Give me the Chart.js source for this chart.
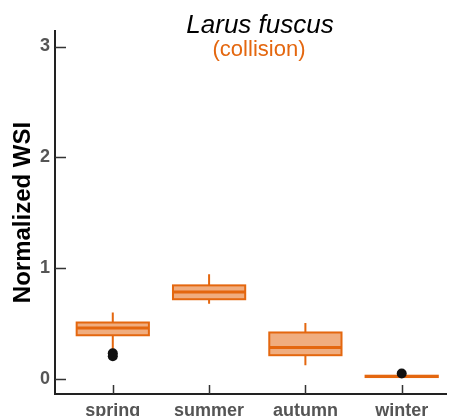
<!DOCTYPE html>
<html>
<head>
<meta charset="utf-8">
<script src="https://cdn.jsdelivr.net/npm/chart.js@4/dist/chart.umd.min.js"></script>
<style>
  html, body { margin: 0; padding: 0; background: #fff; }
  #wrap { width: 451px; height: 416px; }
</style>
</head>
<body>
<div id="wrap"><canvas id="chart" width="451" height="416"></canvas></div>
<script>
// Seasonal distribution of normalized WSI (collision) for Larus fuscus
const seasons = ['spring', 'summer', 'autumn', 'winter'];
const whiskerLow  = [0.26, 0.68, 0.125, 0.015];
const q1          = [0.395, 0.72, 0.215, 0.018];
const median      = [0.46, 0.785, 0.285, 0.024];
const q3          = [0.51, 0.845, 0.42, 0.030];
const whiskerHigh = [0.60, 0.945, 0.505, 0.033];
const outlierSeason = ['spring', 'spring', 'winter'];
const outlierValue  = [0.232, 0.205, 0.05];
const yTicks = [0, 1, 2, 3];

const FONT = "'Liberation Sans', Arial, Helvetica, sans-serif";
const ORANGE = '#e4670f';
const ORANGE_FILL = '#f0ad7f';
const BOX_WIDTH = 0.75;

const outlierPoints = outlierValue.map((v, i) => ({ x: seasons.indexOf(outlierSeason[i]) + 1, y: v }));

// Boxes, whiskers and medians drawn from the summary arrays via the chart scales
const boxPlotPlugin = {
  id: 'boxPlot',
  beforeDatasetsDraw(chart) {
    const { ctx, scales: { x, y } } = chart;
    ctx.save();
    seasons.forEach((s, i) => {
      const cx = x.getPixelForValue(i + 1);
      const half = x.getPixelForValue(i + 1 + BOX_WIDTH / 2) - cx;
      const yLo = y.getPixelForValue(whiskerLow[i]);
      const yHi = y.getPixelForValue(whiskerHigh[i]);
      const y1 = y.getPixelForValue(q1[i]);
      const y3 = y.getPixelForValue(q3[i]);
      const ym = y.getPixelForValue(median[i]);
      ctx.strokeStyle = ORANGE;
      ctx.lineWidth = 2;
      ctx.beginPath();
      ctx.moveTo(cx, yHi); ctx.lineTo(cx, y3);
      ctx.moveTo(cx, y1); ctx.lineTo(cx, yLo);
      ctx.stroke();
      ctx.fillStyle = ORANGE_FILL;
      ctx.fillRect(cx - half, y3, 2 * half, y1 - y3);
      ctx.strokeRect(cx - half, y3, 2 * half, y1 - y3);
      ctx.lineWidth = 3;
      ctx.beginPath();
      ctx.moveTo(cx - half, ym); ctx.lineTo(cx + half, ym);
      ctx.stroke();
    });
    ctx.restore();
  }
};

// Inward tick marks and the two-line heading
const decorPlugin = {
  id: 'decor',
  afterDraw(chart) {
    const { ctx, chartArea: a, scales: { x, y } } = chart;
    ctx.save();
    ctx.strokeStyle = '#333';
    ctx.lineWidth = 1.5;
    ctx.beginPath();
    y.ticks.forEach(t => {
      const py = Math.round(y.getPixelForValue(t.value)) + 0.5;
      ctx.moveTo(a.left, py); ctx.lineTo(a.left + 11, py);
    });
    x.ticks.forEach(t => {
      const px = Math.round(x.getPixelForValue(t.value)) + 0.5;
      ctx.moveTo(px, a.bottom); ctx.lineTo(px, a.bottom - 9);
    });
    ctx.stroke();

    ctx.textAlign = 'center';
    ctx.textBaseline = 'alphabetic';
    ctx.fillStyle = '#000';
    ctx.font = 'italic 26px ' + FONT;
    ctx.fillText('Larus fuscus', 260, 33);
    ctx.fillStyle = ORANGE;
    ctx.font = '22px ' + FONT;
    ctx.fillText('(collision)', 259, 56);
    ctx.restore();
  }
};

new Chart(document.getElementById('chart'), {
  type: 'scatter',
  data: {
    datasets: [{
      label: 'outliers',
      data: outlierPoints,
      pointRadius: 5,
      pointHoverRadius: 5,
      backgroundColor: '#111',
      borderWidth: 0
    }]
  },
  options: {
    responsive: false,
    animation: false,
    layout: { padding: { top: 31, right: 0, left: 0, bottom: 0 } },
    plugins: { legend: { display: false }, tooltip: { enabled: false } },
    scales: {
      x: {
        type: 'linear',
        min: 0.4,
        max: 4.46,
        afterBuildTicks: s => { s.ticks = seasons.map((_, i) => ({ value: i + 1 })); },
        afterFit: s => { s.height = 22; },
        grid: { display: false, drawTicks: false },
        border: { display: true, color: '#222', width: 2 },
        ticks: {
          callback: v => seasons[v - 1] || '',
          font: { family: FONT, size: 18, weight: 'bold' },
          color: '#555',
          padding: 6,
          maxRotation: 0,
          autoSkip: false
        }
      },
      y: {
        type: 'linear',
        min: -0.135,
        max: 3.14,
        afterBuildTicks: s => { s.ticks = yTicks.map(v => ({ value: v })); },
        afterFit: s => { s.width = 55; },
        grid: { display: false, drawTicks: false },
        border: { display: true, color: '#222', width: 2 },
        ticks: {
          font: { family: FONT, size: 18, weight: 'bold' },
          color: '#555',
          padding: 5
        },
        title: {
          display: true,
          text: 'Normalized WSI',
          font: { family: FONT, size: 24, weight: 'bold' },
          color: '#000',
          padding: { top: 9, bottom: 0 }
        }
      }
    }
  },
  plugins: [boxPlotPlugin, decorPlugin]
});
</script>
</body>
</html>
